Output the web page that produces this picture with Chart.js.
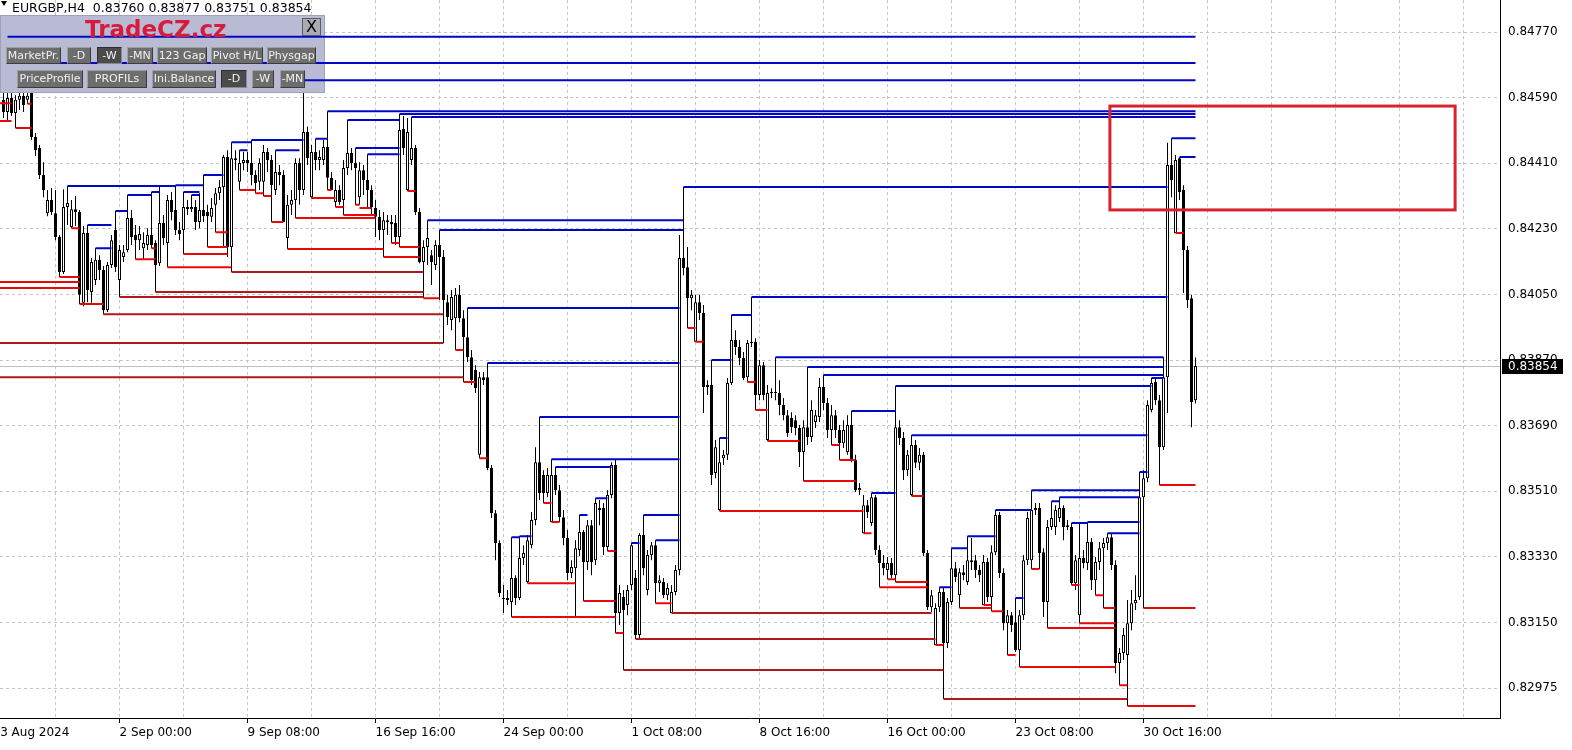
<!DOCTYPE html>
<html>
<head>
<meta charset="utf-8">
<title>EURGBP,H4</title>
<script src="https://cdn.jsdelivr.net/npm/chart.js@4.4.1/dist/chart.umd.min.js"></script>
<style>
    html, body { margin: 0; padding: 0; background: #fff; }
    #wrap { position: relative; width: 1572px; height: 750px; overflow: hidden; font-family: "DejaVu Sans", sans-serif; }
    #chart { position: absolute; left: 0; top: 0; }
    #title { position: absolute; left: 12px; top: 1px; font-size: 12.5px; line-height: 13px; color: #000; white-space: pre; }
    #tri { position: absolute; left: 1px; top: 1px; width: 0; height: 0; border-left: 3px solid transparent; border-right: 3px solid transparent; border-top: 5px solid #000; }
    #brand { position: absolute; left: 85px; top: 18px; font: bold 23px/23px "DejaVu Sans", sans-serif; color: #d81a3c; white-space: nowrap; }
    #closeBtn { position: absolute; left: 302px; top: 18px; width: 19px; height: 18px; box-sizing: border-box; background: #a9aab2; border: 1px solid #5c5c66; font: 16px/16px "DejaVu Sans", sans-serif; text-align: center; color: #000; }
    .btn { position: absolute; box-sizing: border-box; height: 17px; line-height: 15px; font-size: 11px; color: #f2f2f2; background: #6d6d6d; border: 1px solid; border-color: #a0a0a0 #3c3c3c #3c3c3c #a0a0a0; text-align: center; white-space: nowrap; overflow: hidden; }
    .btn.on { background: #4b4b4b; border-color: #2e2e2e #8a8a8a #8a8a8a #2e2e2e; }
    .row2 { height: 18px; line-height: 16px; }
</style>
</head>
<body>
<div id="wrap">
    <canvas id="chart" width="1572" height="750"></canvas>
    <div id="tri"></div>
    <div id="title">EURGBP,H4  0.83760 0.83877 0.83751 0.83854</div>
    <div id="brand">TradeCZ.cz</div>
    <div id="closeBtn">X</div>

    <div class="btn" style="left:6px;top:47px;width:55px">MarketPr.</div>
    <div class="btn" style="left:67px;top:47px;width:24px">-D</div>
    <div class="btn on" style="left:97px;top:47px;width:25px">-W</div>
    <div class="btn" style="left:127px;top:47px;width:26px">-MN</div>
    <div class="btn" style="left:157px;top:47px;width:50px">123 Gap</div>
    <div class="btn" style="left:211px;top:47px;width:52px">Pivot H/L</div>
    <div class="btn" style="left:267px;top:47px;width:49px">Physgap</div>

    <div class="btn row2" style="left:17px;top:70px;width:66px">PriceProfile</div>
    <div class="btn row2" style="left:87px;top:70px;width:60px">PROFILs</div>
    <div class="btn row2" style="left:152px;top:70px;width:64px">Ini.Balance</div>
    <div class="btn row2 on" style="left:221px;top:70px;width:26px">-D</div>
    <div class="btn row2" style="left:252px;top:70px;width:22px">-W</div>
    <div class="btn row2" style="left:280px;top:70px;width:25px">-MN</div>
</div>

<script>
// ==============================
//  DATA (EURGBP H4, one value per bar, bar 0 = left edge)
// ==============================

const opens = [
    0.84584, 0.84551, 0.84589, 0.84548, 0.84584, 0.84595, 0.84584, 0.84603, 0.84482, 0.84452,
    0.84378, 0.84273, 0.84309, 0.84273, 0.84208, 0.84112, 0.84290, 0.84235, 0.84284, 0.84276,
    0.84027, 0.84219, 0.84057, 0.84090, 0.84145, 0.84117, 0.84007, 0.84131, 0.84227, 0.84090,
    0.84153, 0.84172, 0.84260, 0.84213, 0.84199, 0.84177, 0.84186, 0.84213, 0.84191, 0.84136,
    0.84246, 0.84191, 0.84309, 0.84282, 0.84227, 0.84227, 0.84290, 0.84284, 0.84290, 0.84249,
    0.84282, 0.84276, 0.84263, 0.84296, 0.84328, 0.84345, 0.84427, 0.84180, 0.84424, 0.84359,
    0.84411, 0.84419, 0.84411, 0.84378, 0.84359, 0.84359, 0.84441, 0.84419, 0.84337, 0.84386,
    0.84378, 0.84205, 0.84296, 0.84309, 0.84411, 0.84337, 0.84496, 0.84317, 0.84441, 0.84419,
    0.84419, 0.84455, 0.84370, 0.84304, 0.84337, 0.84309, 0.84397, 0.84438, 0.84411, 0.84317,
    0.84391, 0.84364, 0.84337, 0.84287, 0.84263, 0.84227, 0.84254, 0.84249, 0.84246, 0.84208,
    0.84504, 0.84337, 0.84419, 0.84452, 0.84276, 0.84139, 0.84180, 0.84158, 0.84131, 0.84186,
    0.84153, 0.84029, 0.83980, 0.83985, 0.84049, 0.83985, 0.83933, 0.83878, 0.83843, 0.83610,
    0.83823, 0.83823, 0.83574, 0.83450, 0.83368, 0.83217, 0.83217, 0.83206, 0.83272, 0.83217,
    0.83327, 0.83261, 0.83362, 0.83431, 0.83590, 0.83555, 0.83505, 0.83426, 0.83555, 0.83513,
    0.83439, 0.83382, 0.83286, 0.83299, 0.83349, 0.83398, 0.83316, 0.83417, 0.83321, 0.83459,
    0.83464, 0.83357, 0.83500, 0.83582, 0.83176, 0.83220, 0.83198, 0.83253, 0.83272, 0.83116,
    0.83390, 0.83239, 0.83335, 0.83362, 0.83258, 0.83261, 0.83225, 0.83176, 0.83234, 0.83294,
    0.84150, 0.84125, 0.84040, 0.83920, 0.84029, 0.83999, 0.83802, 0.83802, 0.83560, 0.83459,
    0.83601, 0.83610, 0.83807, 0.83925, 0.83906, 0.83876, 0.83823, 0.83917, 0.83920, 0.83774,
    0.83856, 0.83651, 0.83780, 0.83782, 0.83780, 0.83747, 0.83719, 0.83711, 0.83705, 0.83684,
    0.83618, 0.83686, 0.83659, 0.83700, 0.83714, 0.83796, 0.83752, 0.83678, 0.83719, 0.83678,
    0.83642, 0.83618, 0.83692, 0.83596, 0.83513, 0.83395, 0.83472, 0.83423, 0.83494, 0.83349,
    0.83313, 0.83294, 0.83313, 0.83280, 0.83686, 0.83656, 0.83568, 0.83500, 0.83637, 0.83588,
    0.83610, 0.83341, 0.83192, 0.83088, 0.83192, 0.83234, 0.83094, 0.83206, 0.83299, 0.83225,
    0.83288, 0.83261, 0.83316, 0.83321, 0.83294, 0.83198, 0.83316, 0.83220, 0.83343, 0.83445,
    0.83286, 0.83148, 0.83170, 0.83151, 0.83074, 0.83170, 0.83321, 0.83321, 0.83459, 0.83464,
    0.83343, 0.83206, 0.83412, 0.83412, 0.83437, 0.83464, 0.83412, 0.83412, 0.83258, 0.83170,
    0.83327, 0.83313, 0.83371, 0.83266, 0.83316, 0.83354, 0.83368, 0.83384, 0.83308, 0.83039,
    0.83066, 0.83061, 0.83148, 0.83203, 0.83220, 0.83494, 0.83546, 0.83733, 0.83810, 0.83760,
    0.83631, 0.83823, 0.84405, 0.84219, 0.84424, 0.84337, 0.84172, 0.84040, 0.83760
];

const highs = [
    0.84606, 0.84757, 0.84606, 0.84597, 0.84606, 0.84606, 0.84685, 0.84606, 0.84493, 0.84460,
    0.84413, 0.84337, 0.84342, 0.84337, 0.84213, 0.84339, 0.84348, 0.84309, 0.84320, 0.84282,
    0.84238, 0.84241, 0.84150, 0.84177, 0.84158, 0.84128, 0.84139, 0.84213, 0.84279, 0.84186,
    0.84186, 0.84323, 0.84282, 0.84241, 0.84238, 0.84221, 0.84232, 0.84331, 0.84199, 0.84345,
    0.84268, 0.84323, 0.84331, 0.84350, 0.84249, 0.84331, 0.84309, 0.84323, 0.84309, 0.84328,
    0.84378, 0.84296, 0.84315, 0.84342, 0.84364, 0.84433, 0.84446, 0.84468, 0.84446, 0.84446,
    0.84441, 0.84441, 0.84474, 0.84391, 0.84424, 0.84460, 0.84452, 0.84433, 0.84446, 0.84405,
    0.84391, 0.84323, 0.84337, 0.84424, 0.84424, 0.84638, 0.84510, 0.84460, 0.84477, 0.84446,
    0.84474, 0.84553, 0.84386, 0.84364, 0.84350, 0.84419, 0.84529, 0.84452, 0.84452, 0.84413,
    0.84405, 0.84435, 0.84350, 0.84309, 0.84282, 0.84276, 0.84268, 0.84268, 0.84268, 0.84545,
    0.84540, 0.84534, 0.84537, 0.84460, 0.84287, 0.84199, 0.84254, 0.84172, 0.84199, 0.84227,
    0.84172, 0.84049, 0.84062, 0.84068, 0.84076, 0.84007, 0.84013, 0.83898, 0.83856, 0.83837,
    0.83837, 0.83862, 0.83582, 0.83459, 0.83376, 0.83253, 0.83239, 0.83384, 0.83280, 0.83387,
    0.83362, 0.83390, 0.83453, 0.83631, 0.83714, 0.83568, 0.83574, 0.83598, 0.83577, 0.83527,
    0.83459, 0.83404, 0.83321, 0.83376, 0.83445, 0.83404, 0.83431, 0.83431, 0.83491, 0.83486,
    0.83478, 0.83513, 0.83590, 0.83596, 0.83253, 0.83239, 0.83253, 0.83368, 0.83294, 0.83395,
    0.83445, 0.83349, 0.83371, 0.83376, 0.83280, 0.83272, 0.83258, 0.83253, 0.83308, 0.84213,
    0.84345, 0.84180, 0.84062, 0.84049, 0.84049, 0.84021, 0.83815, 0.83870, 0.83651, 0.83656,
    0.83623, 0.83821, 0.83994, 0.83952, 0.83925, 0.83892, 0.83925, 0.84043, 0.83930, 0.83870,
    0.83865, 0.83802, 0.83793, 0.83878, 0.83815, 0.83766, 0.83733, 0.83727, 0.83719, 0.83692,
    0.83705, 0.83851, 0.83760, 0.83733, 0.83821, 0.83829, 0.83766, 0.83747, 0.83733, 0.83692,
    0.83705, 0.83719, 0.83730, 0.83610, 0.83533, 0.83500, 0.83486, 0.83505, 0.83500, 0.83362,
    0.83335, 0.83330, 0.83327, 0.83799, 0.83705, 0.83673, 0.83623, 0.83664, 0.83651, 0.83629,
    0.83618, 0.83349, 0.83239, 0.83203, 0.83247, 0.83245, 0.83217, 0.83354, 0.83316, 0.83299,
    0.83308, 0.83387, 0.83382, 0.83335, 0.83308, 0.83335, 0.83327, 0.83362, 0.83459, 0.83453,
    0.83299, 0.83184, 0.83179, 0.83217, 0.83184, 0.83335, 0.83453, 0.83513, 0.83478, 0.83478,
    0.83354, 0.83431, 0.83483, 0.83472, 0.83494, 0.83472, 0.83431, 0.83423, 0.83335, 0.83423,
    0.83349, 0.83426, 0.83382, 0.83330, 0.83371, 0.83382, 0.83395, 0.83395, 0.83321, 0.83080,
    0.83135, 0.83212, 0.83239, 0.83280, 0.83563, 0.83568, 0.83760, 0.83821, 0.83821, 0.83774,
    0.83878, 0.84466, 0.84479, 0.84433, 0.84427, 0.84350, 0.84183, 0.84049, 0.83877
];

const lows = [
    0.84534, 0.84526, 0.84540, 0.84507, 0.84556, 0.84551, 0.84573, 0.84474, 0.84430, 0.84367,
    0.84317, 0.84265, 0.84268, 0.84199, 0.84098, 0.84106, 0.84241, 0.84232, 0.84238, 0.84024,
    0.84018, 0.84029, 0.84027, 0.84076, 0.84090, 0.83996, 0.84002, 0.84123, 0.84112, 0.84043,
    0.84139, 0.84166, 0.84186, 0.84147, 0.84172, 0.84147, 0.84172, 0.84177, 0.84057, 0.84128,
    0.84186, 0.84125, 0.84254, 0.84213, 0.84199, 0.84161, 0.84268, 0.84276, 0.84227, 0.84232,
    0.84249, 0.84180, 0.84249, 0.84221, 0.84309, 0.84180, 0.84153, 0.84112, 0.84391, 0.84337,
    0.84391, 0.84386, 0.84350, 0.84328, 0.84337, 0.84320, 0.84386, 0.84249, 0.84323, 0.84350,
    0.84249, 0.84175, 0.84268, 0.84260, 0.84296, 0.84323, 0.84405, 0.84315, 0.84391, 0.84391,
    0.84405, 0.84337, 0.84337, 0.84290, 0.84296, 0.84268, 0.84378, 0.84391, 0.84296, 0.84296,
    0.84323, 0.84287, 0.84268, 0.84208, 0.84199, 0.84153, 0.84213, 0.84191, 0.84186, 0.84180,
    0.84433, 0.84334, 0.84405, 0.84268, 0.84136, 0.84040, 0.84131, 0.84076, 0.84117, 0.84035,
    0.83917, 0.83966, 0.83952, 0.83898, 0.83974, 0.83810, 0.83865, 0.83802, 0.83780, 0.83601,
    0.83802, 0.83568, 0.83437, 0.83321, 0.83220, 0.83176, 0.83198, 0.83165, 0.83198, 0.83212,
    0.83308, 0.83258, 0.83354, 0.83417, 0.83486, 0.83478, 0.83494, 0.83426, 0.83500, 0.83426,
    0.83362, 0.83266, 0.83272, 0.83168, 0.83332, 0.83209, 0.83294, 0.83280, 0.83308, 0.83417,
    0.83335, 0.83346, 0.83491, 0.83121, 0.83143, 0.83020, 0.83170, 0.83239, 0.83105, 0.83102,
    0.83280, 0.83225, 0.83321, 0.83203, 0.83234, 0.83217, 0.83212, 0.83176, 0.83225, 0.83280,
    0.84103, 0.83958, 0.84007, 0.83920, 0.83980, 0.83725, 0.83774, 0.83527, 0.83546, 0.83456,
    0.83582, 0.83596, 0.83802, 0.83884, 0.83856, 0.83815, 0.83810, 0.83906, 0.83733, 0.83760,
    0.83760, 0.83648, 0.83766, 0.83760, 0.83719, 0.83705, 0.83659, 0.83670, 0.83664, 0.83577,
    0.83538, 0.83637, 0.83645, 0.83684, 0.83700, 0.83733, 0.83656, 0.83637, 0.83656, 0.83596,
    0.83629, 0.83610, 0.83590, 0.83508, 0.83500, 0.83395, 0.83437, 0.83415, 0.83335, 0.83247,
    0.83280, 0.83269, 0.83272, 0.83261, 0.83637, 0.83541, 0.83552, 0.83497, 0.83574, 0.83568,
    0.83332, 0.83184, 0.83179, 0.83088, 0.83179, 0.82940, 0.83080, 0.83198, 0.83261, 0.83190,
    0.83266, 0.83253, 0.83294, 0.83272, 0.83261, 0.83198, 0.83206, 0.83181, 0.83335, 0.83272,
    0.83129, 0.83061, 0.83124, 0.83069, 0.83028, 0.83157, 0.83308, 0.83297, 0.83445, 0.83297,
    0.83165, 0.83135, 0.83404, 0.83390, 0.83426, 0.83376, 0.83404, 0.83253, 0.83239, 0.83148,
    0.83299, 0.83294, 0.83239, 0.83225, 0.83294, 0.83190, 0.83349, 0.83294, 0.83011, 0.82978,
    0.83047, 0.82921, 0.83129, 0.83184, 0.83212, 0.83190, 0.83535, 0.83727, 0.83747, 0.83527,
    0.83623, 0.83725, 0.84317, 0.84219, 0.84309, 0.84054, 0.84013, 0.83686, 0.83751
];

const closes = [
    0.84551, 0.84589, 0.84548, 0.84584, 0.84595, 0.84570, 0.84595, 0.84482, 0.84446, 0.84378,
    0.84337, 0.84309, 0.84276, 0.84208, 0.84112, 0.84290, 0.84301, 0.84284, 0.84276, 0.84049,
    0.84219, 0.84062, 0.84139, 0.84145, 0.84117, 0.84007, 0.84131, 0.84199, 0.84125, 0.84172,
    0.84166, 0.84260, 0.84208, 0.84199, 0.84216, 0.84191, 0.84213, 0.84186, 0.84131, 0.84246,
    0.84205, 0.84309, 0.84276, 0.84227, 0.84216, 0.84290, 0.84284, 0.84290, 0.84249, 0.84282,
    0.84265, 0.84265, 0.84287, 0.84328, 0.84345, 0.84427, 0.84180, 0.84424, 0.84419, 0.84411,
    0.84419, 0.84411, 0.84378, 0.84356, 0.84411, 0.84441, 0.84419, 0.84350, 0.84386, 0.84378,
    0.84249, 0.84296, 0.84309, 0.84411, 0.84337, 0.84496, 0.84424, 0.84441, 0.84419, 0.84427,
    0.84455, 0.84370, 0.84337, 0.84337, 0.84304, 0.84397, 0.84438, 0.84411, 0.84397, 0.84391,
    0.84364, 0.84337, 0.84290, 0.84263, 0.84227, 0.84254, 0.84249, 0.84243, 0.84208, 0.84501,
    0.84452, 0.84496, 0.84452, 0.84276, 0.84139, 0.84180, 0.84205, 0.84139, 0.84186, 0.84153,
    0.84035, 0.83988, 0.84043, 0.84049, 0.83985, 0.83933, 0.83878, 0.83815, 0.83793, 0.83823,
    0.83815, 0.83574, 0.83450, 0.83368, 0.83231, 0.83214, 0.83212, 0.83272, 0.83217, 0.83327,
    0.83341, 0.83376, 0.83431, 0.83590, 0.83505, 0.83505, 0.83555, 0.83555, 0.83513, 0.83439,
    0.83382, 0.83286, 0.83302, 0.83354, 0.83398, 0.83316, 0.83417, 0.83316, 0.83478, 0.83464,
    0.83357, 0.83500, 0.83582, 0.83176, 0.83231, 0.83184, 0.83239, 0.83362, 0.83116, 0.83390,
    0.83299, 0.83335, 0.83362, 0.83258, 0.83266, 0.83225, 0.83245, 0.83234, 0.83294, 0.84150,
    0.84123, 0.84040, 0.84049, 0.84029, 0.83999, 0.83796, 0.83796, 0.83555, 0.83631, 0.83590,
    0.83610, 0.83807, 0.83925, 0.83906, 0.83876, 0.83821, 0.83917, 0.83920, 0.83774, 0.83856,
    0.83774, 0.83780, 0.83782, 0.83780, 0.83747, 0.83719, 0.83670, 0.83686, 0.83684, 0.83618,
    0.83686, 0.83659, 0.83733, 0.83719, 0.83796, 0.83752, 0.83678, 0.83719, 0.83678, 0.83642,
    0.83678, 0.83692, 0.83596, 0.83513, 0.83519, 0.83472, 0.83453, 0.83494, 0.83349, 0.83313,
    0.83299, 0.83313, 0.83280, 0.83686, 0.83656, 0.83568, 0.83610, 0.83637, 0.83588, 0.83610,
    0.83341, 0.83192, 0.83225, 0.83190, 0.83234, 0.83094, 0.83206, 0.83299, 0.83275, 0.83288,
    0.83280, 0.83321, 0.83321, 0.83294, 0.83280, 0.83316, 0.83220, 0.83343, 0.83445, 0.83286,
    0.83148, 0.83170, 0.83143, 0.83074, 0.83170, 0.83321, 0.83437, 0.83459, 0.83464, 0.83341,
    0.83206, 0.83412, 0.83437, 0.83459, 0.83464, 0.83412, 0.83417, 0.83258, 0.83321, 0.83327,
    0.83313, 0.83371, 0.83266, 0.83316, 0.83354, 0.83368, 0.83384, 0.83308, 0.83039, 0.83066,
    0.83116, 0.83148, 0.83203, 0.83212, 0.83494, 0.83546, 0.83747, 0.83807, 0.83760, 0.83631,
    0.83823, 0.84405, 0.84364, 0.84419, 0.84331, 0.84172, 0.84035, 0.83755, 0.83854
];

// Levels drawn by the indicator: [price, first bar, last bar]
const resistanceLevels = [
    [0.84757, 1, 298], [0.84685, 6, 298], [0.84638, 75, 298], [0.84553, 81, 298],
    [0.84545, 99, 298], [0.84537, 102, 298], [0.84348, 16, 43], [0.84350, 43, 50],
    [0.84378, 50, 55], [0.84177, 23, 27], [0.84241, 21, 27], [0.84279, 28, 31],
    [0.84323, 31, 37], [0.84331, 37, 39], [0.84331, 45, 49], [0.84323, 47, 49],
    [0.84468, 57, 62], [0.84446, 59, 61], [0.84474, 62, 75], [0.84446, 68, 74],
    [0.84477, 78, 81], [0.84529, 86, 99], [0.84452, 88, 99], [0.84435, 91, 99],
    [0.84254, 106, 170], [0.84227, 109, 170], [0.84013, 116, 169], [0.83862, 121, 169],
    [0.83714, 134, 169], [0.83598, 137, 169], [0.83577, 138, 152], [0.83384, 127, 129],
    [0.83387, 129, 132], [0.83445, 144, 146], [0.83491, 148, 151], [0.83368, 157, 159],
    [0.83445, 160, 169], [0.83376, 163, 169], [0.84345, 170, 291], [0.83870, 177, 182],
    [0.83656, 179, 181], [0.83994, 182, 187], [0.84043, 187, 291], [0.83878, 193, 290],
    [0.83851, 201, 290], [0.83829, 205, 290], [0.83730, 212, 223], [0.83505, 217, 223],
    [0.83799, 223, 287], [0.83664, 227, 286], [0.83247, 234, 237], [0.83354, 237, 241],
    [0.83387, 241, 248], [0.83459, 248, 257], [0.83217, 253, 255], [0.83513, 257, 284],
    [0.83483, 262, 264], [0.83494, 264, 284], [0.83423, 267, 271], [0.83426, 271, 284],
    [0.83395, 276, 284], [0.83563, 284, 286], [0.83821, 287, 290], [0.84479, 292, 298],
    [0.84427, 294, 298]
];

const supportLevels = [
    [0.84575, -1, 2], [0.84526, -1, 2], [0.84507, 3, 7], [0.84573, 6, 7],
    [0.84084, -1, 19], [0.84068, -1, 19], [0.84098, 14, 19], [0.84232, 17, 19],
    [0.84024, 19, 25], [0.83996, 25, 110], [0.84043, 29, 105], [0.84147, 33, 38],
    [0.84177, 37, 38], [0.84057, 38, 105], [0.84125, 41, 57], [0.84161, 45, 56],
    [0.84180, 51, 56], [0.84221, 53, 56], [0.84337, 59, 63], [0.84112, 57, 105],
    [0.84328, 63, 65], [0.84320, 65, 67], [0.84249, 67, 70], [0.84175, 71, 95],
    [0.84260, 73, 93], [0.84315, 77, 83], [0.84337, 81, 82], [0.84290, 83, 85],
    [0.84268, 85, 93], [0.84296, 88, 89], [0.84287, 89, 92], [0.84153, 95, 104],
    [0.84191, 97, 99], [0.84180, 99, 104], [0.84334, 101, 103], [0.84040, 105, 109],
    [0.83917, -1, 110], [0.83823, -1, 115], [0.83898, 113, 115], [0.83810, 115, 118],
    [0.83601, 119, 121], [0.83165, 127, 153], [0.83258, 131, 143], [0.83478, 135, 137],
    [0.83426, 137, 139], [0.83209, 145, 153], [0.83346, 151, 153], [0.83121, 153, 155],
    [0.83020, 155, 235], [0.83105, 158, 233], [0.83203, 163, 167], [0.83176, 167, 232],
    [0.83958, 171, 173], [0.83920, 173, 175], [0.83456, 179, 215], [0.83810, 186, 188],
    [0.83733, 188, 191], [0.83648, 191, 199], [0.83538, 200, 213], [0.83637, 207, 209],
    [0.83596, 209, 213], [0.83395, 215, 217], [0.83247, 219, 231], [0.83269, 221, 223],
    [0.83261, 223, 231], [0.83497, 227, 230], [0.83088, 233, 235], [0.82940, 235, 281],
    [0.83190, 239, 247], [0.83198, 245, 247], [0.83181, 247, 250], [0.83061, 251, 253],
    [0.83028, 254, 278], [0.83297, 257, 259], [0.83135, 261, 278], [0.83253, 267, 269],
    [0.83148, 269, 278], [0.83225, 273, 275], [0.83190, 275, 278], [0.82978, 279, 281],
    [0.82921, 281, 298], [0.83190, 285, 298], [0.83527, 289, 298], [0.84219, 293, 295]
];

// Price axis
const priceTicks = [0.8297, 0.8315, 0.8333, 0.8351, 0.8369, 0.8387, 0.8405, 0.8423, 0.8441, 0.8459, 0.8477];
const priceTickLabels = ["0.82975", "0.83150", "0.83330", "0.83510", "0.83690", "0.83870",
    "0.84050", "0.84230", "0.84410", "0.84590", "0.84770"];

// Time axis (bar positions of the labels)
const timeTickBars = [-2.75, 29, 61, 93, 125, 157, 189, 221, 253, 285];
const timeTickLabels = ["23 Aug 2024", "2 Sep 00:00", "9 Sep 08:00", "16 Sep 16:00", "24 Sep 00:00",
    "1 Oct 08:00", "8 Oct 16:00", "16 Oct 00:00", "23 Oct 08:00", "30 Oct 16:00"];

// Red zone drawn by hand on the chart
const zoneBox = { fromBar: 276.6, toBar: 362.9, top: 0.84567, bottom: 0.84282 };
const lastPrice = 0.83854;

// ==============================
//  HELPERS
// ==============================

const BAR_MIN = -0.875;       // bar 0 sits 3.5 px from the left edge
const BAR_MAX = 374.125;      // 375 bar slots of 4 px
const GRID_FIRST = 13;
const GRID_STEP = 16;

function timeLabelFor(value) {
    const idx = timeTickBars.indexOf(value);
    return idx === -1 ? "" : timeTickLabels[idx];
}

// Turns [price, from, to] levels into one line dataset with gaps between segments
function levelPoints(levels) {
    const pts = [];
    levels.forEach(function (lvl) {
        pts.push({ x: lvl[1], y: lvl[0] });
        pts.push({ x: lvl[2], y: lvl[0] });
        pts.push({ x: lvl[2], y: null });
    });
    return pts;
}

const wickData = highs.map(function (h, i) { return { x: i, y: [lows[i], h] }; });
const bodyData = opens.map(function (o, i) { return { x: i, y: [o, closes[i]] }; });
const bodyFill = opens.map(function (o, i) { return closes[i] >= o ? "#ffffff" : "#000000"; });

const longSupport = supportLevels.filter(function (l) { return l[2] - l[1] >= 40; });
const shortSupport = supportLevels.filter(function (l) { return l[2] - l[1] < 40; });

// ==============================
//  PLUGINS
// ==============================

// Panel background sits over the candles but under the level lines
const panelBackdrop = {
    id: "panelBackdrop",
    beforeDatasetDraw(chart, args) {
        if (args.index !== 2) return;
        const ctx = chart.ctx;
        ctx.save();
        ctx.fillStyle = "#b9bbd5";
        ctx.fillRect(0, 15, 325, 78);
        ctx.strokeStyle = "#9fa1bd";
        ctx.lineWidth = 1;
        ctx.strokeRect(0.5, 15.5, 324, 77);
        ctx.restore();
    }
};

const priceLine = {
    id: "priceLine",
    beforeDatasetsDraw(chart) {
        const ctx = chart.ctx;
        const y = Math.round(chart.scales.y.getPixelForValue(lastPrice)) + 0.5;
        ctx.save();
        ctx.strokeStyle = "#c0c0c0";
        ctx.lineWidth = 1;
        ctx.beginPath();
        ctx.moveTo(chart.chartArea.left, y);
        ctx.lineTo(chart.chartArea.right, y);
        ctx.stroke();
        ctx.restore();
    },
    afterDraw(chart) {
        const ctx = chart.ctx;
        const xs = chart.scales.x;
        const ys = chart.scales.y;

        // hand-drawn zone
        const x1 = xs.getPixelForValue(zoneBox.fromBar);
        const x2 = xs.getPixelForValue(zoneBox.toBar);
        const y1 = ys.getPixelForValue(zoneBox.top);
        const y2 = ys.getPixelForValue(zoneBox.bottom);
        ctx.save();
        ctx.strokeStyle = "#d8232f";
        ctx.lineWidth = 3;
        ctx.strokeRect(x1, y1, x2 - x1, y2 - y1);

        // last price tag
        const y = Math.round(ys.getPixelForValue(lastPrice));
        ctx.fillStyle = "#000";
        ctx.fillRect(chart.chartArea.right + 2, y - 7, 61, 15);
        ctx.fillStyle = "#fff";
        ctx.font = '12px "DejaVu Sans"';
        ctx.textBaseline = "middle";
        ctx.textAlign = "left";
        ctx.fillText(lastPrice.toFixed(5), chart.chartArea.right + 8, y + 1);
        ctx.restore();
    }
};

// ==============================
//  CHART
// ==============================

Chart.defaults.font.family = '"DejaVu Sans", sans-serif';
Chart.defaults.font.size = 12;
Chart.defaults.color = "#000";

const lineStyle = {
    type: "line",
    borderWidth: 2,
    pointRadius: 0,
    pointHoverRadius: 0,
    tension: 0,
    spanGaps: false,
    borderCapStyle: "butt"
};

new Chart(document.getElementById("chart"), {
    type: "line",
    data: {
        datasets: [
            {
                type: "bar", label: "wicks", data: wickData, order: 6,
                backgroundColor: "#000", borderWidth: 0, barThickness: 1,
                grouped: false, inflateAmount: 0
            },
            {
                type: "bar", label: "bodies", data: bodyData, order: 5,
                backgroundColor: bodyFill, borderColor: "#000", borderWidth: 1,
                borderSkipped: false, barThickness: 3, minBarLength: 1,
                grouped: false, inflateAmount: 0
            },
            Object.assign({ label: "support (long)", data: levelPoints(longSupport), borderColor: "#b01a1a", order: 4 }, lineStyle),
            Object.assign({ label: "support", data: levelPoints(shortSupport), borderColor: "#e80808", order: 3 }, lineStyle),
            Object.assign({ label: "resistance", data: levelPoints(resistanceLevels), borderColor: "#0008c4", order: 2 }, lineStyle)
        ]
    },
    options: {
        responsive: false,
        animation: false,
        devicePixelRatio: 1,
        events: [],
        layout: { padding: 0 },
        plugins: {
            legend: { display: false },
            tooltip: { enabled: false }
        },
        scales: {
            x: {
                type: "linear",
                min: BAR_MIN,
                max: BAR_MAX,
                offset: false,
                grid: {
                    offset: false,
                    color: "#c4c4c4",
                    drawTicks: true,
                    tickLength: 5,
                    tickColor: function (ctx) {
                        return ctx.tick && timeLabelFor(ctx.tick.value) ? "#000" : "rgba(0,0,0,0)";
                    }
                },
                border: { display: true, color: "#000", width: 1, dash: [3, 3] },
                ticks: {
                    autoSkip: false,
                    maxRotation: 0,
                    minRotation: 0,
                    align: "start",
                    padding: 3,
                    callback: function (value) { return timeLabelFor(value); }
                },
                afterBuildTicks: function (scale) {
                    const ticks = [{ value: timeTickBars[0] }];
                    for (let b = GRID_FIRST; b <= BAR_MAX; b += GRID_STEP) {
                        ticks.push({ value: b });
                    }
                    scale.ticks = ticks;
                },
                afterFit: function (scale) {
                    scale.height = 32;
                    scale.paddingLeft = 0;
                    scale.paddingRight = 0;
                }
            },
            y: {
                type: "linear",
                position: "right",
                min: 0.82888,
                max: 0.84858,
                grid: { color: "#c4c4c4", drawTicks: false },
                border: { display: true, color: "#000", width: 1, dash: [3, 3] },
                ticks: {
                    padding: 8,
                    callback: function (value, index) { return priceTickLabels[index]; }
                },
                afterBuildTicks: function (scale) {
                    scale.ticks = priceTicks.map(function (v) { return { value: v }; });
                },
                afterFit: function (scale) {
                    scale.width = 72;
                    scale.paddingTop = 0;
                    scale.paddingBottom = 0;
                }
            }
        }
    },
    plugins: [panelBackdrop, priceLine]
});
</script>
</body>
</html>
